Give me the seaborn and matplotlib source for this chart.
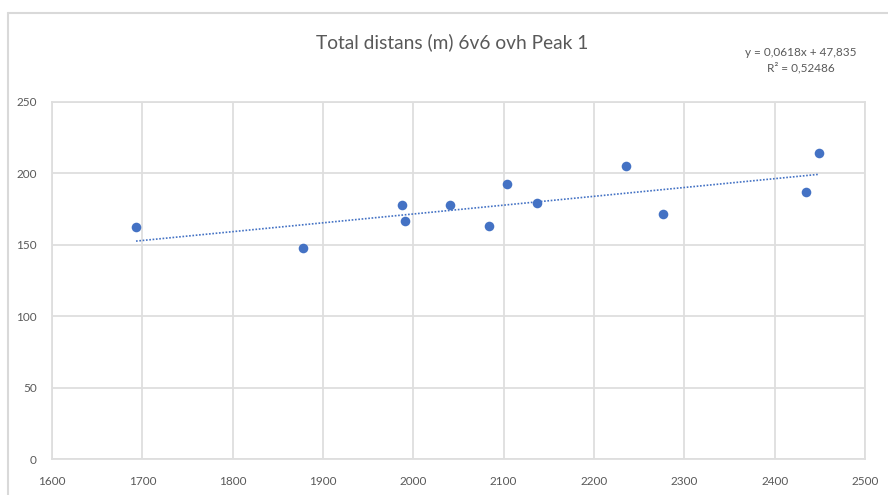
import numpy as np
import pandas as pd
import matplotlib
matplotlib.use("Agg")
import matplotlib.pyplot as plt
import seaborn as sns
from matplotlib.lines import Line2D

# =========================
# Data
# =========================
distance = [1693, 1878, 1988, 1991, 2041, 2084, 2104, 2137, 2235, 2276, 2435, 2449]
peak1 = [162.3, 147.4, 177.7, 166.5, 177.7, 163.2, 192.4, 179.3, 204.8, 171.4, 186.8, 214.1]
slope = 0.0618
intercept = 47.835
r2_text = "R² = 0,52486"
eq_text = "y = 0,0618x + 47,835"
x_ticks = list(range(1600, 2501, 100))
y_ticks = list(range(0, 251, 50))

data = pd.DataFrame({"Total distans": distance, "Peak 1": peak1})

# =========================
# Style
# =========================
sns.set_style("whitegrid", {"grid.color": "#dedede", "axes.edgecolor": "#dedede"})
plt.rcParams["font.family"] = ["Lato", "DejaVu Sans"]

grey_text = "#595959"
blue = "#4472C4"

fig = plt.figure(figsize=(8.88, 4.95), dpi=100)
ax = fig.add_axes([52 / 888, 1 - 459 / 495, (865 - 52) / 888, (459 - 101.7) / 495])

sns.scatterplot(ax=ax, data=data, x="Total distans", y="Peak 1",
                color=blue, s=48, edgecolor=blue, linewidth=0, zorder=3)

# Linear trendline (Excel style, dotted)
xs = np.array([min(distance), max(distance)])
ax.plot(xs, slope * xs + intercept, linestyle=(0, (1, 1)), color=blue, lw=1.2, zorder=2)

ax.set_xlim(1600, 2500)
ax.set_ylim(0, 250)
ax.set_xticks(x_ticks)
ax.set_yticks(y_ticks)
ax.grid(True, color="#dedede", lw=1.3)
ax.tick_params(axis="both", length=0, labelsize=8.5, labelcolor=grey_text)
ax.tick_params(axis="x", pad=12)
ax.tick_params(axis="y", pad=11)
for s in ax.spines.values():
    s.set_color("#dedede")
    s.set_linewidth(1.3)
ax.set_xlabel("")
ax.set_ylabel("")

fig.text(452 / 888, 1 - 42 / 495, "Total distans (m) 6v6 ovh Peak 1",
         ha="center", va="center", fontsize=13.8, color=grey_text)
fig.text(801 / 888, 1 - 52 / 495, eq_text, ha="center", va="center",
         fontsize=8.5, color=grey_text)
fig.text(801 / 888, 1 - 68 / 495, r2_text, ha="center", va="center",
         fontsize=8.5, color=grey_text)

# Chart area border
fig.add_artist(Line2D([8 / 888, 8 / 888], [0, 1 - 13 / 495], transform=fig.transFigure,
                      color="#d9d9d9", lw=1.5))
fig.add_artist(Line2D([8 / 888, 1], [1 - 13 / 495, 1 - 13 / 495], transform=fig.transFigure,
                      color="#d9d9d9", lw=1.5))

plt.savefig("out.png", dpi=100)
plt.close()
